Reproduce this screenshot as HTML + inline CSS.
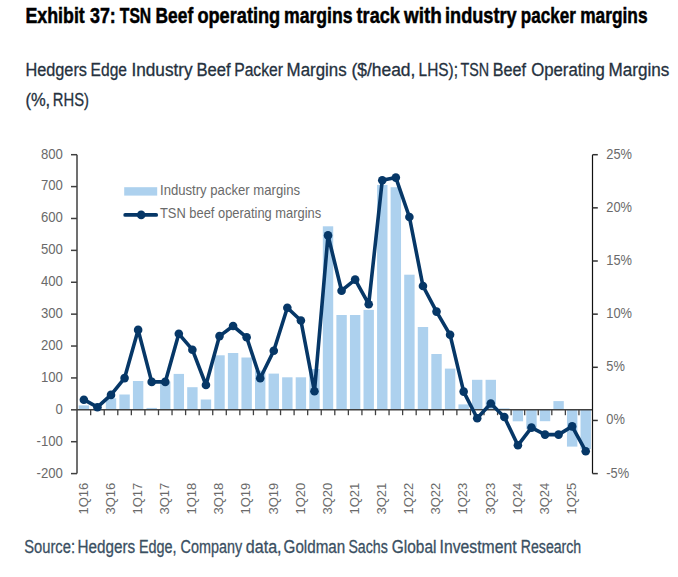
<!DOCTYPE html><html><head><meta charset="utf-8"><style>html,body{margin:0;padding:0;background:#fff;width:678px;height:577px;overflow:hidden}svg{display:block}text{font-family:"Liberation Sans",sans-serif}</style></head><body>
<svg width="678" height="577" viewBox="0 0 678 577">
<g>
<text x="25.4" y="22.8" font-size="22" font-weight="bold" fill="#000" stroke="#000" stroke-width="0.5" lengthAdjust="spacingAndGlyphs" textLength="59.4">Exhibit</text>
<text x="90.0" y="22.8" font-size="22" font-weight="bold" fill="#000" stroke="#000" stroke-width="0.5" lengthAdjust="spacingAndGlyphs" textLength="25.8">37:</text>
<text x="119.8" y="22.8" font-size="22" font-weight="bold" fill="#000" stroke="#000" stroke-width="0.5" lengthAdjust="spacingAndGlyphs" textLength="31.4">TSN</text>
<text x="155.6" y="22.8" font-size="22" font-weight="bold" fill="#000" stroke="#000" stroke-width="0.5" lengthAdjust="spacingAndGlyphs" textLength="37.6">Beef</text>
<text x="197.4" y="22.8" font-size="22" font-weight="bold" fill="#000" stroke="#000" stroke-width="0.5" lengthAdjust="spacingAndGlyphs" textLength="82.8">operating</text>
<text x="284.0" y="22.8" font-size="22" font-weight="bold" fill="#000" stroke="#000" stroke-width="0.5" lengthAdjust="spacingAndGlyphs" textLength="68.6">margins</text>
<text x="356.6" y="22.8" font-size="22" font-weight="bold" fill="#000" stroke="#000" stroke-width="0.5" lengthAdjust="spacingAndGlyphs" textLength="43.2">track</text>
<text x="404.0" y="22.8" font-size="22" font-weight="bold" fill="#000" stroke="#000" stroke-width="0.5" lengthAdjust="spacingAndGlyphs" textLength="37.8">with</text>
<text x="445.0" y="22.8" font-size="22" font-weight="bold" fill="#000" stroke="#000" stroke-width="0.5" lengthAdjust="spacingAndGlyphs" textLength="71.6">industry</text>
<text x="520.8" y="22.8" font-size="22" font-weight="bold" fill="#000" stroke="#000" stroke-width="0.5" lengthAdjust="spacingAndGlyphs" textLength="55.0">packer</text>
<text x="580.2" y="22.8" font-size="22" font-weight="bold" fill="#000" stroke="#000" stroke-width="0.5" lengthAdjust="spacingAndGlyphs" textLength="67.4">margins</text>
<text x="25.4" y="75.8" font-size="18" fill="#25313e" stroke="#25313e" stroke-width="0.3" lengthAdjust="spacingAndGlyphs" textLength="61.6">Hedgers</text>
<text x="90.6" y="75.8" font-size="18" fill="#25313e" stroke="#25313e" stroke-width="0.3" lengthAdjust="spacingAndGlyphs" textLength="36.4">Edge</text>
<text x="131.4" y="75.8" font-size="18" fill="#25313e" stroke="#25313e" stroke-width="0.3" lengthAdjust="spacingAndGlyphs" textLength="61.2">Industry</text>
<text x="196.4" y="75.8" font-size="18" fill="#25313e" stroke="#25313e" stroke-width="0.3" lengthAdjust="spacingAndGlyphs" textLength="34.2">Beef</text>
<text x="234.2" y="75.8" font-size="18" fill="#25313e" stroke="#25313e" stroke-width="0.3" lengthAdjust="spacingAndGlyphs" textLength="48.8">Packer</text>
<text x="286.6" y="75.8" font-size="18" fill="#25313e" stroke="#25313e" stroke-width="0.3" lengthAdjust="spacingAndGlyphs" textLength="60.0">Margins</text>
<text x="351.4" y="75.8" font-size="18" fill="#25313e" stroke="#25313e" stroke-width="0.3" lengthAdjust="spacingAndGlyphs" textLength="64.0">($/head,</text>
<text x="418.6" y="75.8" font-size="18" fill="#25313e" stroke="#25313e" stroke-width="0.3" lengthAdjust="spacingAndGlyphs" textLength="39.4">LHS);</text>
<text x="460.6" y="75.8" font-size="18" fill="#25313e" stroke="#25313e" stroke-width="0.3" lengthAdjust="spacingAndGlyphs" textLength="28.6">TSN</text>
<text x="492.8" y="75.8" font-size="18" fill="#25313e" stroke="#25313e" stroke-width="0.3" lengthAdjust="spacingAndGlyphs" textLength="33.2">Beef</text>
<text x="531.2" y="75.8" font-size="18" fill="#25313e" stroke="#25313e" stroke-width="0.3" lengthAdjust="spacingAndGlyphs" textLength="73.6">Operating</text>
<text x="608.6" y="75.8" font-size="18" fill="#25313e" stroke="#25313e" stroke-width="0.3" lengthAdjust="spacingAndGlyphs" textLength="60.8">Margins</text>
<text x="25.4" y="106.3" font-size="18" fill="#25313e" stroke="#25313e" stroke-width="0.3" lengthAdjust="spacingAndGlyphs" textLength="24.8">(%,</text>
<text x="52.8" y="106.3" font-size="18" fill="#25313e" stroke="#25313e" stroke-width="0.3" lengthAdjust="spacingAndGlyphs" textLength="36.2">RHS)</text>
<text x="24.2" y="552.8" font-size="17.5" fill="#3a4f62" stroke="#3a4f62" stroke-width="0.3" lengthAdjust="spacingAndGlyphs" textLength="50.8">Source:</text>
<text x="77.6" y="552.8" font-size="17.5" fill="#3a4f62" stroke="#3a4f62" stroke-width="0.3" lengthAdjust="spacingAndGlyphs" textLength="57.6">Hedgers</text>
<text x="139.0" y="552.8" font-size="17.5" fill="#3a4f62" stroke="#3a4f62" stroke-width="0.3" lengthAdjust="spacingAndGlyphs" textLength="37.6">Edge,</text>
<text x="180.6" y="552.8" font-size="17.5" fill="#3a4f62" stroke="#3a4f62" stroke-width="0.3" lengthAdjust="spacingAndGlyphs" textLength="61.6">Company</text>
<text x="245.8" y="552.8" font-size="17.5" fill="#3a4f62" stroke="#3a4f62" stroke-width="0.3" lengthAdjust="spacingAndGlyphs" textLength="35.8">data,</text>
<text x="283.6" y="552.8" font-size="17.5" fill="#3a4f62" stroke="#3a4f62" stroke-width="0.3" lengthAdjust="spacingAndGlyphs" textLength="61.6">Goldman</text>
<text x="348.4" y="552.8" font-size="17.5" fill="#3a4f62" stroke="#3a4f62" stroke-width="0.3" lengthAdjust="spacingAndGlyphs" textLength="39.4">Sachs</text>
<text x="391.8" y="552.8" font-size="17.5" fill="#3a4f62" stroke="#3a4f62" stroke-width="0.3" lengthAdjust="spacingAndGlyphs" textLength="44.6">Global</text>
<text x="439.6" y="552.8" font-size="17.5" fill="#3a4f62" stroke="#3a4f62" stroke-width="0.3" lengthAdjust="spacingAndGlyphs" textLength="77.0">Investment</text>
<text x="520.8" y="552.8" font-size="17.5" fill="#3a4f62" stroke="#3a4f62" stroke-width="0.3" lengthAdjust="spacingAndGlyphs" textLength="60.4">Research</text>
</g>
<rect x="78.68" y="405.40" width="10.4" height="4.30" fill="#add1ee"/>
<rect x="105.81" y="398.30" width="10.4" height="11.40" fill="#add1ee"/>
<rect x="119.37" y="394.50" width="10.4" height="15.20" fill="#add1ee"/>
<rect x="132.93" y="381.00" width="10.4" height="28.70" fill="#add1ee"/>
<rect x="146.50" y="407.90" width="10.4" height="1.80" fill="#add1ee"/>
<rect x="160.06" y="381.50" width="10.4" height="28.20" fill="#add1ee"/>
<rect x="173.62" y="373.90" width="10.4" height="35.80" fill="#add1ee"/>
<rect x="187.19" y="387.20" width="10.4" height="22.50" fill="#add1ee"/>
<rect x="200.75" y="399.50" width="10.4" height="10.20" fill="#add1ee"/>
<rect x="214.31" y="355.30" width="10.4" height="54.40" fill="#add1ee"/>
<rect x="227.88" y="353.00" width="10.4" height="56.70" fill="#add1ee"/>
<rect x="241.44" y="357.50" width="10.4" height="52.20" fill="#add1ee"/>
<rect x="255.00" y="370.60" width="10.4" height="39.10" fill="#add1ee"/>
<rect x="268.57" y="373.60" width="10.4" height="36.10" fill="#add1ee"/>
<rect x="282.13" y="377.30" width="10.4" height="32.40" fill="#add1ee"/>
<rect x="295.69" y="377.30" width="10.4" height="32.40" fill="#add1ee"/>
<rect x="309.26" y="369.00" width="10.4" height="40.70" fill="#add1ee"/>
<rect x="322.82" y="226.30" width="10.4" height="183.40" fill="#add1ee"/>
<rect x="336.38" y="315.00" width="10.4" height="94.70" fill="#add1ee"/>
<rect x="349.94" y="315.00" width="10.4" height="94.70" fill="#add1ee"/>
<rect x="363.51" y="309.90" width="10.4" height="99.80" fill="#add1ee"/>
<rect x="377.07" y="184.90" width="10.4" height="224.80" fill="#add1ee"/>
<rect x="390.63" y="187.20" width="10.4" height="222.50" fill="#add1ee"/>
<rect x="404.20" y="274.70" width="10.4" height="135.00" fill="#add1ee"/>
<rect x="417.76" y="327.00" width="10.4" height="82.70" fill="#add1ee"/>
<rect x="431.32" y="354.00" width="10.4" height="55.70" fill="#add1ee"/>
<rect x="444.89" y="368.60" width="10.4" height="41.10" fill="#add1ee"/>
<rect x="458.45" y="404.40" width="10.4" height="5.30" fill="#add1ee"/>
<rect x="472.01" y="379.80" width="10.4" height="29.90" fill="#add1ee"/>
<rect x="485.58" y="379.80" width="10.4" height="29.90" fill="#add1ee"/>
<rect x="499.14" y="408.40" width="10.4" height="1.30" fill="#add1ee"/>
<rect x="512.70" y="409.70" width="10.4" height="11.60" fill="#add1ee"/>
<rect x="526.27" y="409.70" width="10.4" height="19.30" fill="#add1ee"/>
<rect x="539.83" y="409.70" width="10.4" height="11.50" fill="#add1ee"/>
<rect x="553.39" y="401.10" width="10.4" height="8.60" fill="#add1ee"/>
<rect x="566.96" y="409.70" width="10.4" height="36.90" fill="#add1ee"/>
<rect x="580.52" y="409.70" width="10.4" height="39.30" fill="#add1ee"/>
<path d="M77 154.7V473.6" stroke="#404040" stroke-width="1.5" fill="none"/>
<path d="M71 154.70H77" stroke="#404040" stroke-width="1.5"/>
<path d="M71 186.59H77" stroke="#404040" stroke-width="1.5"/>
<path d="M71 218.48H77" stroke="#404040" stroke-width="1.5"/>
<path d="M71 250.37H77" stroke="#404040" stroke-width="1.5"/>
<path d="M71 282.26H77" stroke="#404040" stroke-width="1.5"/>
<path d="M71 314.15H77" stroke="#404040" stroke-width="1.5"/>
<path d="M71 346.04H77" stroke="#404040" stroke-width="1.5"/>
<path d="M71 377.93H77" stroke="#404040" stroke-width="1.5"/>
<path d="M71 409.82H77" stroke="#404040" stroke-width="1.5"/>
<path d="M71 441.71H77" stroke="#404040" stroke-width="1.5"/>
<path d="M71 473.60H77" stroke="#404040" stroke-width="1.5"/>
<path d="M77 409.7H592.5" stroke="#404040" stroke-width="1.5"/>
<path d="M90.66 409.7V415.2" stroke="#404040" stroke-width="1.3"/>
<path d="M104.23 409.7V415.2" stroke="#404040" stroke-width="1.3"/>
<path d="M117.79 409.7V415.2" stroke="#404040" stroke-width="1.3"/>
<path d="M131.35 409.7V415.2" stroke="#404040" stroke-width="1.3"/>
<path d="M144.92 409.7V415.2" stroke="#404040" stroke-width="1.3"/>
<path d="M158.48 409.7V415.2" stroke="#404040" stroke-width="1.3"/>
<path d="M172.04 409.7V415.2" stroke="#404040" stroke-width="1.3"/>
<path d="M185.61 409.7V415.2" stroke="#404040" stroke-width="1.3"/>
<path d="M199.17 409.7V415.2" stroke="#404040" stroke-width="1.3"/>
<path d="M212.73 409.7V415.2" stroke="#404040" stroke-width="1.3"/>
<path d="M226.29 409.7V415.2" stroke="#404040" stroke-width="1.3"/>
<path d="M239.86 409.7V415.2" stroke="#404040" stroke-width="1.3"/>
<path d="M253.42 409.7V415.2" stroke="#404040" stroke-width="1.3"/>
<path d="M266.98 409.7V415.2" stroke="#404040" stroke-width="1.3"/>
<path d="M280.55 409.7V415.2" stroke="#404040" stroke-width="1.3"/>
<path d="M294.11 409.7V415.2" stroke="#404040" stroke-width="1.3"/>
<path d="M307.67 409.7V415.2" stroke="#404040" stroke-width="1.3"/>
<path d="M321.24 409.7V415.2" stroke="#404040" stroke-width="1.3"/>
<path d="M334.80 409.7V415.2" stroke="#404040" stroke-width="1.3"/>
<path d="M348.36 409.7V415.2" stroke="#404040" stroke-width="1.3"/>
<path d="M361.93 409.7V415.2" stroke="#404040" stroke-width="1.3"/>
<path d="M375.49 409.7V415.2" stroke="#404040" stroke-width="1.3"/>
<path d="M389.05 409.7V415.2" stroke="#404040" stroke-width="1.3"/>
<path d="M402.62 409.7V415.2" stroke="#404040" stroke-width="1.3"/>
<path d="M416.18 409.7V415.2" stroke="#404040" stroke-width="1.3"/>
<path d="M429.74 409.7V415.2" stroke="#404040" stroke-width="1.3"/>
<path d="M443.31 409.7V415.2" stroke="#404040" stroke-width="1.3"/>
<path d="M456.87 409.7V415.2" stroke="#404040" stroke-width="1.3"/>
<path d="M470.43 409.7V415.2" stroke="#404040" stroke-width="1.3"/>
<path d="M483.99 409.7V415.2" stroke="#404040" stroke-width="1.3"/>
<path d="M497.56 409.7V415.2" stroke="#404040" stroke-width="1.3"/>
<path d="M511.12 409.7V415.2" stroke="#404040" stroke-width="1.3"/>
<path d="M524.68 409.7V415.2" stroke="#404040" stroke-width="1.3"/>
<path d="M538.25 409.7V415.2" stroke="#404040" stroke-width="1.3"/>
<path d="M551.81 409.7V415.2" stroke="#404040" stroke-width="1.3"/>
<path d="M565.37 409.7V415.2" stroke="#404040" stroke-width="1.3"/>
<path d="M578.94 409.7V415.2" stroke="#404040" stroke-width="1.3"/>
<path d="M592.5 154.7V473.6" stroke="#111" stroke-width="1.2" fill="none"/>
<path d="M592.5 154.70H597.8" stroke="#333" stroke-width="1.5"/>
<path d="M592.5 207.85H597.8" stroke="#333" stroke-width="1.5"/>
<path d="M592.5 261.00H597.8" stroke="#333" stroke-width="1.5"/>
<path d="M592.5 314.15H597.8" stroke="#333" stroke-width="1.5"/>
<path d="M592.5 367.30H597.8" stroke="#333" stroke-width="1.5"/>
<path d="M592.5 420.45H597.8" stroke="#333" stroke-width="1.5"/>
<path d="M592.5 473.60H597.8" stroke="#333" stroke-width="1.5"/>
<text transform="translate(62.9,158.60) scale(0.92,1)" font-size="14.3" fill="#6a6a6a" text-anchor="end">800</text>
<text transform="translate(62.9,190.49) scale(0.92,1)" font-size="14.3" fill="#6a6a6a" text-anchor="end">700</text>
<text transform="translate(62.9,222.38) scale(0.92,1)" font-size="14.3" fill="#6a6a6a" text-anchor="end">600</text>
<text transform="translate(62.9,254.27) scale(0.92,1)" font-size="14.3" fill="#6a6a6a" text-anchor="end">500</text>
<text transform="translate(62.9,286.16) scale(0.92,1)" font-size="14.3" fill="#6a6a6a" text-anchor="end">400</text>
<text transform="translate(62.9,318.05) scale(0.92,1)" font-size="14.3" fill="#6a6a6a" text-anchor="end">300</text>
<text transform="translate(62.9,349.94) scale(0.92,1)" font-size="14.3" fill="#6a6a6a" text-anchor="end">200</text>
<text transform="translate(62.9,381.83) scale(0.92,1)" font-size="14.3" fill="#6a6a6a" text-anchor="end">100</text>
<text transform="translate(62.9,413.72) scale(0.92,1)" font-size="14.3" fill="#6a6a6a" text-anchor="end">0</text>
<text transform="translate(62.9,445.61) scale(0.92,1)" font-size="14.3" fill="#6a6a6a" text-anchor="end">-100</text>
<text transform="translate(62.9,477.50) scale(0.92,1)" font-size="14.3" fill="#6a6a6a" text-anchor="end">-200</text>
<text transform="translate(606.3,158.60) scale(0.88,1)" font-size="14.6" fill="#6a6a6a">25%</text>
<text transform="translate(606.3,211.75) scale(0.88,1)" font-size="14.6" fill="#6a6a6a">20%</text>
<text transform="translate(606.3,264.90) scale(0.88,1)" font-size="14.6" fill="#6a6a6a">15%</text>
<text transform="translate(606.3,318.05) scale(0.88,1)" font-size="14.6" fill="#6a6a6a">10%</text>
<text transform="translate(606.3,371.20) scale(0.88,1)" font-size="14.6" fill="#6a6a6a">5%</text>
<text transform="translate(606.3,424.35) scale(0.88,1)" font-size="14.6" fill="#6a6a6a">0%</text>
<text transform="translate(606.3,477.50) scale(0.88,1)" font-size="14.6" fill="#6a6a6a">-5%</text>
<text transform="translate(87.68,514.6) rotate(-90)" font-size="13" fill="#6a6a6a">1Q16</text>
<text transform="translate(114.81,514.6) rotate(-90)" font-size="13" fill="#6a6a6a">3Q16</text>
<text transform="translate(141.93,514.6) rotate(-90)" font-size="13" fill="#6a6a6a">1Q17</text>
<text transform="translate(169.06,514.6) rotate(-90)" font-size="13" fill="#6a6a6a">3Q17</text>
<text transform="translate(196.19,514.6) rotate(-90)" font-size="13" fill="#6a6a6a">1Q18</text>
<text transform="translate(223.31,514.6) rotate(-90)" font-size="13" fill="#6a6a6a">3Q18</text>
<text transform="translate(250.44,514.6) rotate(-90)" font-size="13" fill="#6a6a6a">1Q19</text>
<text transform="translate(277.57,514.6) rotate(-90)" font-size="13" fill="#6a6a6a">3Q19</text>
<text transform="translate(304.69,514.6) rotate(-90)" font-size="13" fill="#6a6a6a">1Q20</text>
<text transform="translate(331.82,514.6) rotate(-90)" font-size="13" fill="#6a6a6a">3Q20</text>
<text transform="translate(358.94,514.6) rotate(-90)" font-size="13" fill="#6a6a6a">1Q21</text>
<text transform="translate(386.07,514.6) rotate(-90)" font-size="13" fill="#6a6a6a">3Q21</text>
<text transform="translate(413.20,514.6) rotate(-90)" font-size="13" fill="#6a6a6a">1Q22</text>
<text transform="translate(440.32,514.6) rotate(-90)" font-size="13" fill="#6a6a6a">3Q22</text>
<text transform="translate(467.45,514.6) rotate(-90)" font-size="13" fill="#6a6a6a">1Q23</text>
<text transform="translate(494.58,514.6) rotate(-90)" font-size="13" fill="#6a6a6a">3Q23</text>
<text transform="translate(521.70,514.6) rotate(-90)" font-size="13" fill="#6a6a6a">1Q24</text>
<text transform="translate(548.83,514.6) rotate(-90)" font-size="13" fill="#6a6a6a">3Q24</text>
<text transform="translate(575.96,514.6) rotate(-90)" font-size="13" fill="#6a6a6a">1Q25</text>
<polyline points="83.88,399.70 97.44,407.20 111.01,394.90 124.57,378.10 138.13,329.90 151.70,381.90 165.26,381.90 178.82,333.80 192.39,349.70 205.95,385.00 219.51,336.10 233.08,326.00 246.64,337.30 260.20,378.20 273.77,350.80 287.33,307.70 300.89,320.50 314.46,391.30 328.02,235.40 341.58,290.70 355.14,279.60 368.71,304.20 382.27,180.20 395.83,177.60 409.40,217.00 422.96,286.00 436.52,311.60 450.09,334.80 463.65,391.60 477.21,418.30 490.78,403.50 504.34,417.00 517.90,445.30 531.47,427.60 545.03,434.60 558.59,434.60 572.16,426.40 585.72,451.20" fill="none" stroke="#063767" stroke-width="3.6" stroke-linejoin="round"/>
<circle cx="83.88" cy="399.70" r="4.3" fill="#063767"/>
<circle cx="97.44" cy="407.20" r="4.3" fill="#063767"/>
<circle cx="111.01" cy="394.90" r="4.3" fill="#063767"/>
<circle cx="124.57" cy="378.10" r="4.3" fill="#063767"/>
<circle cx="138.13" cy="329.90" r="4.3" fill="#063767"/>
<circle cx="151.70" cy="381.90" r="4.3" fill="#063767"/>
<circle cx="165.26" cy="381.90" r="4.3" fill="#063767"/>
<circle cx="178.82" cy="333.80" r="4.3" fill="#063767"/>
<circle cx="192.39" cy="349.70" r="4.3" fill="#063767"/>
<circle cx="205.95" cy="385.00" r="4.3" fill="#063767"/>
<circle cx="219.51" cy="336.10" r="4.3" fill="#063767"/>
<circle cx="233.08" cy="326.00" r="4.3" fill="#063767"/>
<circle cx="246.64" cy="337.30" r="4.3" fill="#063767"/>
<circle cx="260.20" cy="378.20" r="4.3" fill="#063767"/>
<circle cx="273.77" cy="350.80" r="4.3" fill="#063767"/>
<circle cx="287.33" cy="307.70" r="4.3" fill="#063767"/>
<circle cx="300.89" cy="320.50" r="4.3" fill="#063767"/>
<circle cx="314.46" cy="391.30" r="4.3" fill="#063767"/>
<circle cx="328.02" cy="235.40" r="4.3" fill="#063767"/>
<circle cx="341.58" cy="290.70" r="4.3" fill="#063767"/>
<circle cx="355.14" cy="279.60" r="4.3" fill="#063767"/>
<circle cx="368.71" cy="304.20" r="4.3" fill="#063767"/>
<circle cx="382.27" cy="180.20" r="4.3" fill="#063767"/>
<circle cx="395.83" cy="177.60" r="4.3" fill="#063767"/>
<circle cx="409.40" cy="217.00" r="4.3" fill="#063767"/>
<circle cx="422.96" cy="286.00" r="4.3" fill="#063767"/>
<circle cx="436.52" cy="311.60" r="4.3" fill="#063767"/>
<circle cx="450.09" cy="334.80" r="4.3" fill="#063767"/>
<circle cx="463.65" cy="391.60" r="4.3" fill="#063767"/>
<circle cx="477.21" cy="418.30" r="4.3" fill="#063767"/>
<circle cx="490.78" cy="403.50" r="4.3" fill="#063767"/>
<circle cx="504.34" cy="417.00" r="4.3" fill="#063767"/>
<circle cx="517.90" cy="445.30" r="4.3" fill="#063767"/>
<circle cx="531.47" cy="427.60" r="4.3" fill="#063767"/>
<circle cx="545.03" cy="434.60" r="4.3" fill="#063767"/>
<circle cx="558.59" cy="434.60" r="4.3" fill="#063767"/>
<circle cx="572.16" cy="426.40" r="4.3" fill="#063767"/>
<circle cx="585.72" cy="451.20" r="4.3" fill="#063767"/>
<rect x="124.2" y="187.2" width="33" height="8.4" fill="#add1ee"/>
<path d="M125.2 214.9H156.2" stroke="#063767" stroke-width="3.8" stroke-linecap="round"/>
<circle cx="141.2" cy="214.9" r="4.3" fill="#063767"/>
<text x="160.0" y="194.7" font-size="14.5" fill="#6a6a6a" textLength="140.0" lengthAdjust="spacingAndGlyphs">Industry packer margins</text>
<text x="160.0" y="217.7" font-size="14.5" fill="#6a6a6a" textLength="161.2" lengthAdjust="spacingAndGlyphs">TSN beef operating margins</text>
</svg></body></html>
